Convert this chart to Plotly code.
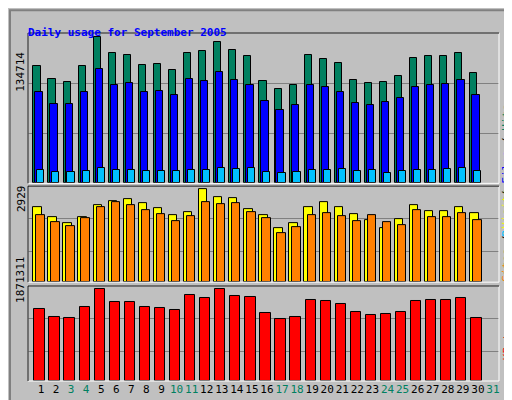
import plotly.graph_objects as go

days = list(range(1, 31))
hits = [108204,96317,93574,108204,134714,120091,118262,109118,110033,104546,120091,121920,130150,122834,117348,94488,87173,90830,118262,114605,110947,95402,92659,93574,99060,115519,117348,117348,120091,101803]
files = [84430,73457,73457,84430,105461,90830,92659,84430,85344,81686,96317,94488,102718,95402,90830,76200,67970,72542,90830,89002,84430,74371,72542,75286,78943,89002,90830,91745,95402,81686]
pages = [12192,10363,10363,11278,14021,12192,12192,11278,11278,11278,12192,12192,14021,13106,14021,10363,9449,10363,12192,12192,13106,11278,12192,9449,11278,12192,12192,13106,14021,11278]
visits = [2387,2069,1878,2069,2419,2546,2610,2483,2355,2133,2228,2929,2674,2642,2324,2133,1719,1878,2387,2515,2387,2164,1973,1719,2005,2419,2260,2260,2387,2196]
sites = [2133,1910,1782,2037,2387,2515,2419,2292,2164,1942,2101,2515,2451,2483,2228,2037,1560,1751,2133,2196,2101,1942,2133,1910,1814,2292,2069,2069,2196,1973]
kbytes = [1461620,1297700,1277210,1502600,1871311,1605050,1605050,1502600,1482110,1441130,1748480,1686010,1871311,1727990,1707500,1379660,1256720,1297700,1645030,1625540,1564070,1400150,1338680,1359170,1400150,1625540,1645030,1645030,1686010,1277210]
tick_days = list(range(1, 32))
weekend = {3, 4, 10, 11, 17, 18, 24, 25, 31}

line = dict(color="black", width=1)
def bar(y, color, off, w, xa, ya):
    return go.Bar(x=days, y=y, marker=dict(color=color, line=line), offset=off, width=w,
                  xaxis=xa, yaxis=ya, showlegend=False, hoverinfo="skip")

fig = go.Figure()
fig.add_trace(bar(hits, "#008060", -0.5, 0.47, "x", "y"))
fig.add_trace(bar(files, "#0000FF", -0.37, 0.48, "x", "y"))
fig.add_trace(bar(pages, "#00C0FF", -0.24, 0.47, "x", "y"))
fig.add_trace(bar(visits, "#FFFF00", -0.51, 0.55, "x2", "y2"))
fig.add_trace(bar(sites, "#FF8000", -0.31, 0.55, "x2", "y2"))
fig.add_trace(bar(kbytes, "#FF0000", -0.44, 0.68, "x3", "y3"))

xr = [0.14, 31.4]
ticktext = [f"<span style='color:#008060'>{d}</span>" if d in weekend else str(d) for d in tick_days]
common_x = dict(range=xr, showgrid=False, zeroline=False, showline=False)
fig.update_layout(
    width=512, height=400, margin=dict(l=20, r=21, t=25, b=23),
    paper_bgcolor="#C0C0C0", plot_bgcolor="#C0C0C0", barmode="overlay",
    font=dict(family="DejaVu Sans Mono", size=11, color="black"),
    xaxis=dict(**common_x, showticklabels=False, anchor="y"),
    xaxis2=dict(**common_x, showticklabels=False, anchor="y2", matches="x"),
    xaxis3=dict(**common_x, anchor="y3", tickmode="array", tickvals=tick_days, ticktext=ticktext,
                ticks="", tickangle=0, tickfont=dict(size=11, family="DejaVu Sans Mono")),
    yaxis=dict(domain=[0.568, 1], range=[0, 138700], tickvals=[45900, 91800], showticklabels=False,
               gridcolor="#808080", zeroline=False),
    yaxis2=dict(domain=[0.284, 0.56], range=[0, 3035], tickvals=[955, 2005], showticklabels=False,
                gridcolor="#808080", zeroline=False),
    yaxis3=dict(domain=[0, 0.273], range=[0, 1939600], tickvals=[601000, 1277000], showticklabels=False,
                gridcolor="#808080", zeroline=False),
    bargap=0,
)

shapes = []
for y0, y1 in [(0.568, 1), (0.284, 0.56), (0, 0.273)]:
    shapes.append(dict(type="rect", xref="paper", yref="paper", x0=0, x1=1, y0=y0, y1=y1,
                       line=dict(color="white", width=1)))
    shapes.append(dict(type="line", xref="paper", yref="paper", x0=0, x1=0, y0=y0, y1=y1,
                       line=dict(color="black", width=1)))
    shapes.append(dict(type="line", xref="paper", yref="paper", x0=0, x1=1, y0=y1, y1=y1,
                       line=dict(color="black", width=1)))
fig.update_layout(shapes=shapes)

ann = [
    dict(text="<b>Daily usage for September 2005</b>", x=18/512, y=(400-16)/400, xanchor="left",
         font=dict(color="#0000FF", size=11)),
    dict(text="134714", x=13/512, y=(400-42)/400, textangle=-90, font=dict(size=11)),
    dict(text="2929", x=13/512, y=(400-193)/400, textangle=-90, font=dict(size=11)),
    dict(text="1871311", x=13/512, y=(400-300)/400, textangle=-90, font=dict(size=11)),
    dict(text="<span style='color:#00C0FF'>Pages</span> / <span style='color:#0000FF'>Files</span> / <span style='color:#008060'>Hits</span>",
         x=499/512, y=(400-95)/400, textangle=-90, font=dict(size=11)),
    dict(text="<span style='color:#FF8000'>Sites</span> / <span style='color:#FFFF00'>Visits</span>",
         x=499/512, y=(400-230)/400, textangle=-90, font=dict(size=11)),
    dict(text="<span style='color:#FF0000'>KBytes</span>", x=499/512, y=(400-358)/400, textangle=-90,
         font=dict(size=11)),
]
for a in ann:
    a.update(xref="paper", yref="paper", showarrow=False)
    a.setdefault("xanchor", "center")
    a["x"] = (a["x"] * 512 - 20) / 471
    a["y"] = (a["y"] * 400 - 23) / 352
fig.update_layout(annotations=ann)

fig.add_shape(type="rect", xref="paper", yref="paper", x0=-18/471, x1=1 + 18/471,
              y0=-21/352, y1=1 + 23/352, line=dict(color="#808080", width=2), layer="below")
fig.write_html("out.html")
